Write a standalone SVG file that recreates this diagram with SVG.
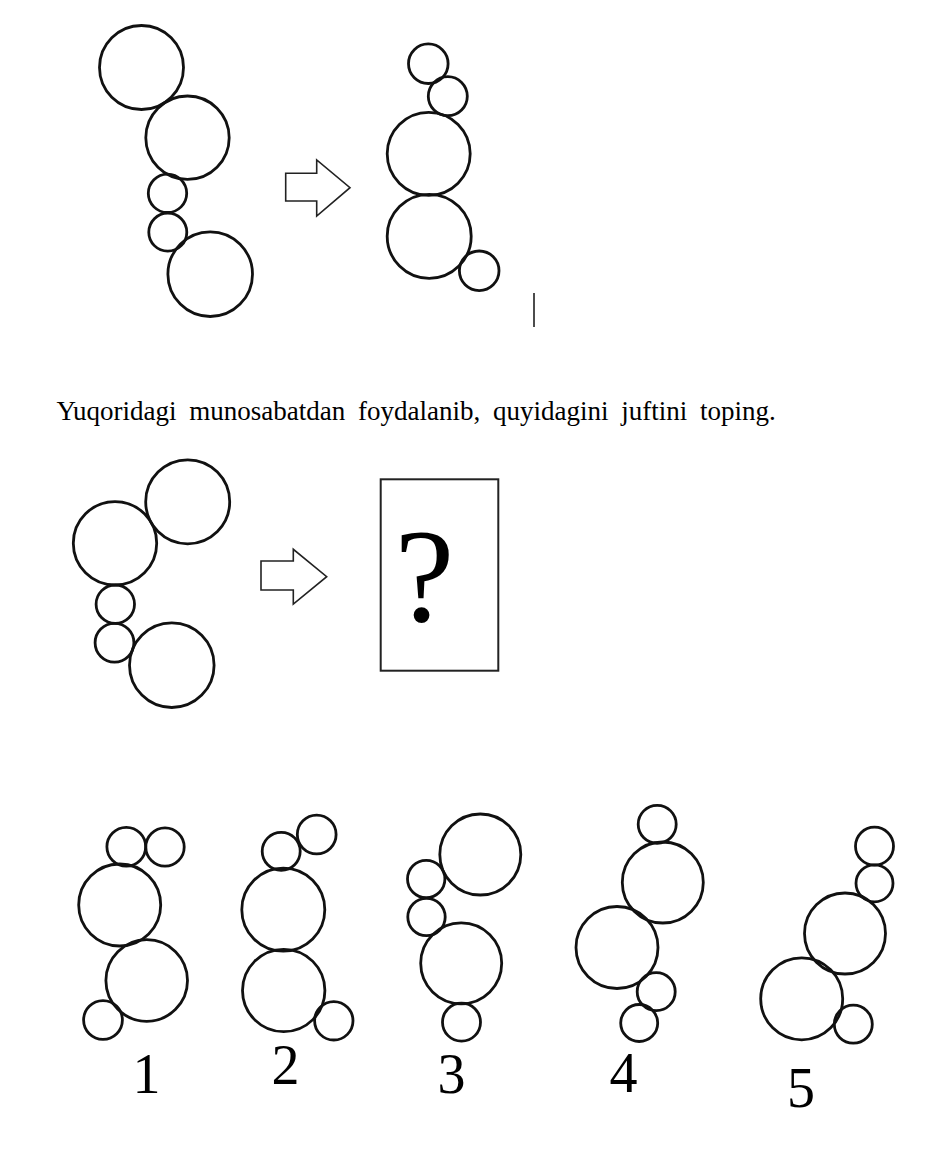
<svg xmlns="http://www.w3.org/2000/svg" width="933" height="1150" viewBox="0 0 933 1150">
<style>
.c{fill:none;stroke:#111;stroke-width:2.8}
.ar{fill:#fff;stroke:#222;stroke-width:1.6;stroke-linejoin:miter}
.t{font-family:"Liberation Serif","Times New Roman",serif;fill:#000}
.n{font-family:"Liberation Serif","Times New Roman",serif;fill:#000;font-size:56px;text-anchor:middle}
</style>
<rect width="933" height="1150" fill="#fff"/>
<g id="example-source">
<circle class="c" cx="141.5" cy="67.5" r="42"/>
<circle class="c" cx="187.5" cy="137.7" r="41.7"/>
<circle class="c" cx="167.5" cy="193.3" r="19.2"/>
<circle class="c" cx="167.8" cy="232.2" r="19"/>
<circle class="c" cx="210.2" cy="274.2" r="42.3"/>
</g>
<g id="example-arrow">
<polygon class="ar" points="285.7,173.3 316.7,173.3 316.7,160 350,187.7 316.7,216 316.7,201 285.7,201"/>
</g>
<g id="example-result">
<circle class="c" cx="428.3" cy="63.7" r="19.8"/>
<circle class="c" cx="447.8" cy="96.2" r="19.5"/>
<circle class="c" cx="428.7" cy="153.8" r="41.5"/>
<circle class="c" cx="429.2" cy="236.3" r="42"/>
<circle class="c" cx="479.2" cy="270.8" r="19.8"/>
</g>
<g id="cursor-line">
<line x1="534" y1="293" x2="534" y2="327" stroke="#111" stroke-width="1.5"/>
</g>
<g id="instruction">
<text class="t" x="56.5" y="420" font-size="27" word-spacing="6">Yuqoridagi munosabatdan foydalanib, quyidagini juftini toping.</text>
</g>
<g id="question-source">
<circle class="c" cx="187.7" cy="501.8" r="42"/>
<circle class="c" cx="115" cy="543.3" r="41.7"/>
<circle class="c" cx="115.3" cy="604.2" r="19.2"/>
<circle class="c" cx="114.5" cy="642.8" r="19.4"/>
<circle class="c" cx="171.8" cy="665.2" r="42.3"/>
</g>
<g id="question-arrow">
<polygon class="ar" points="261,561 293.3,561 293.3,549.3 326.7,576.7 293.3,604 293.3,590 261,590"/>
</g>
<g id="question-box">
<rect x="380.7" y="479.3" width="117.6" height="191.4" fill="none" stroke="#222" stroke-width="2"/>
<text class="t" x="424.5" y="621" font-size="134" text-anchor="middle">?</text>
</g>
<g id="option-1">
<circle class="c" cx="126.3" cy="846.7" r="19.4"/>
<circle class="c" cx="165" cy="847" r="19.2"/>
<circle class="c" cx="119.7" cy="905" r="41"/>
<circle class="c" cx="146.7" cy="980.5" r="40.8"/>
<circle class="c" cx="103" cy="1020" r="19.4"/>
<text class="n" x="146.5" y="1093">1</text>
</g>
<g id="option-2">
<circle class="c" cx="281.2" cy="851.3" r="19"/>
<circle class="c" cx="316.7" cy="834.5" r="19.4"/>
<circle class="c" cx="283.3" cy="909.7" r="41.5"/>
<circle class="c" cx="283.7" cy="990.5" r="41.2"/>
<circle class="c" cx="333.8" cy="1020.8" r="19.2"/>
<text class="n" x="285.5" y="1084">2</text>
</g>
<g id="option-3">
<circle class="c" cx="480.3" cy="854.5" r="40.5"/>
<circle class="c" cx="426.2" cy="879" r="18.7"/>
<circle class="c" cx="426.5" cy="917" r="18.7"/>
<circle class="c" cx="461.2" cy="963.3" r="40.5"/>
<circle class="c" cx="461.5" cy="1022.2" r="19"/>
<text class="n" x="451.5" y="1093">3</text>
</g>
<g id="option-4">
<circle class="c" cx="657.2" cy="824.3" r="19"/>
<circle class="c" cx="662.8" cy="882.5" r="40.5"/>
<circle class="c" cx="617" cy="947.5" r="41"/>
<circle class="c" cx="656.2" cy="991.7" r="19"/>
<circle class="c" cx="639.2" cy="1023" r="18.5"/>
<text class="n" x="623.5" y="1092">4</text>
</g>
<g id="option-5">
<circle class="c" cx="874.5" cy="846.2" r="19"/>
<circle class="c" cx="874.5" cy="883.3" r="18.5"/>
<circle class="c" cx="845" cy="933.5" r="40.5"/>
<circle class="c" cx="801.7" cy="998.8" r="41"/>
<circle class="c" cx="853.3" cy="1024.2" r="19"/>
<text class="n" x="801" y="1107">5</text>
</g>
</svg>
